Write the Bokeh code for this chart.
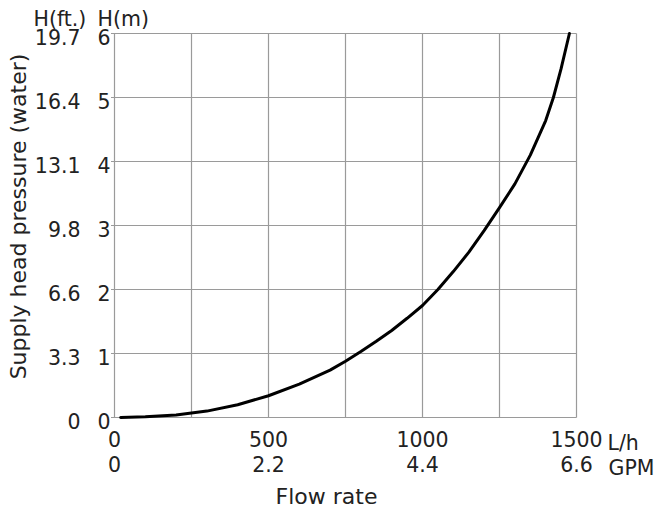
from math import pi
from bokeh.plotting import figure
from bokeh.models import Range1d
from bokeh.core.properties import value
from bokeh.embed import file_html
from bokeh.resources import INLINE

# ---- data ----
flow_lph = [20, 100, 200, 300, 400, 500, 600, 700, 750, 800, 850, 900, 950, 1000,
            1050, 1100, 1150, 1200, 1250, 1300, 1350, 1400, 1425, 1450, 1477]
head_m = [0.0, 0.01, 0.04, 0.1, 0.2, 0.34, 0.52, 0.74, 0.88, 1.03, 1.19, 1.36, 1.55, 1.75,
          2.0, 2.28, 2.58, 2.92, 3.28, 3.65, 4.1, 4.64, 5.0, 5.45, 6.0]

m_ticks = [0, 1, 2, 3, 4, 5, 6]
m_labels = ["0", "1", "2", "3", "4", "5", "6"]
ft_labels = ["0", "3.3", "6.6", "9.8", "13.1", "16.4", "19.7"]
lph_ticks = [0, 500, 1000, 1500]
lph_labels = ["0", "500", "1000", "1500"]
gpm_labels = ["0", "2.2", "4.4", "6.6"]
x_grid = [0, 250, 500, 750, 1000, 1250, 1500]

# ---- layout (pixels) ----
W, H = 658, 510
FL, FR, FT, FB = 114, 576, 33, 417          # plot-box edges in canvas pixels
X0, X1, Y0, Y1 = 0, 1500, 0, 6               # data extents of the plot box
sx = (FR - FL) / (X1 - X0)
sy = (FB - FT) / (Y1 - Y0)

FONT = "DejaVu Sans"
FS = "20.5px"
TXT = "#222222"
GRID = "#9a9a9a"

p = figure(width=W, height=H, output_backend="svg", toolbar_location=None,
           x_range=Range1d(X0 - FL / sx, X0 + (W - FL) / sx),
           y_range=Range1d(Y0 - (H - FB) / sy, Y0 + FB / sy),
           min_border=0)
p.axis.visible = False
p.grid.visible = False
p.outline_line_color = None
p.background_fill_color = "white"
p.border_fill_color = "white"

n = len(x_grid)
p.segment(x0=x_grid, y0=[Y0] * n, x1=x_grid, y1=[Y1] * n, line_color=GRID, line_width=1.2)
k = len(m_ticks)
p.segment(x0=[X0] * k, y0=m_ticks, x1=[X1] * k, y1=m_ticks, line_color=GRID, line_width=1.2)
p.scatter(x=[X0] * k, y=m_ticks, marker="dash", size=7, line_color=GRID, line_width=1.2)

# curve
p.line(flow_lph, head_m, line_width=3, line_color="black", line_cap="round", line_join="round")

def txt(xs, ys, texts, xo=0, yo=0, align="center", baseline="middle", angle=0, size=FS):
    p.text(x=xs, y=ys, text=texts, x_offset=xo, y_offset=yo, angle=angle,
           text_align=align, text_baseline=baseline, text_font=value(FONT),
           text_font_size=value(size), text_color=TXT)

# y tick labels
txt([X0] * k, m_ticks, m_labels, xo=-4, yo=3, align="right")
txt([X0] * k, m_ticks, ft_labels, xo=-34, yo=3, align="right")
# x tick labels
txt(lph_ticks, [Y0] * 4, lph_labels, yo=13, baseline="top")
txt(lph_ticks, [Y0] * 4, gpm_labels, yo=38, baseline="top")
# unit labels
txt([X1], [Y0], ["L/h"], xo=31, yo=13, align="left", baseline="top")
txt([X1], [Y0], ["GPM"], xo=32, yo=38, align="left", baseline="top")
txt([X0], [Y1], ["H(ft.)"], xo=-81, yo=-3, align="left", baseline="bottom")
txt([X0], [Y1], ["H(m)"], xo=-17, yo=-3, align="left", baseline="bottom")
# axis titles
txt([(X0 + X1) / 2], [Y0], ["Flow rate"], xo=-19, yo=79, size="22px")
txt([X0], [(Y0 + Y1) / 2], ["Supply head pressure (water)"], xo=-96, yo=-9,
    angle=pi / 2, size="22px")

open("out.html", "w").write(file_html(p, INLINE))
